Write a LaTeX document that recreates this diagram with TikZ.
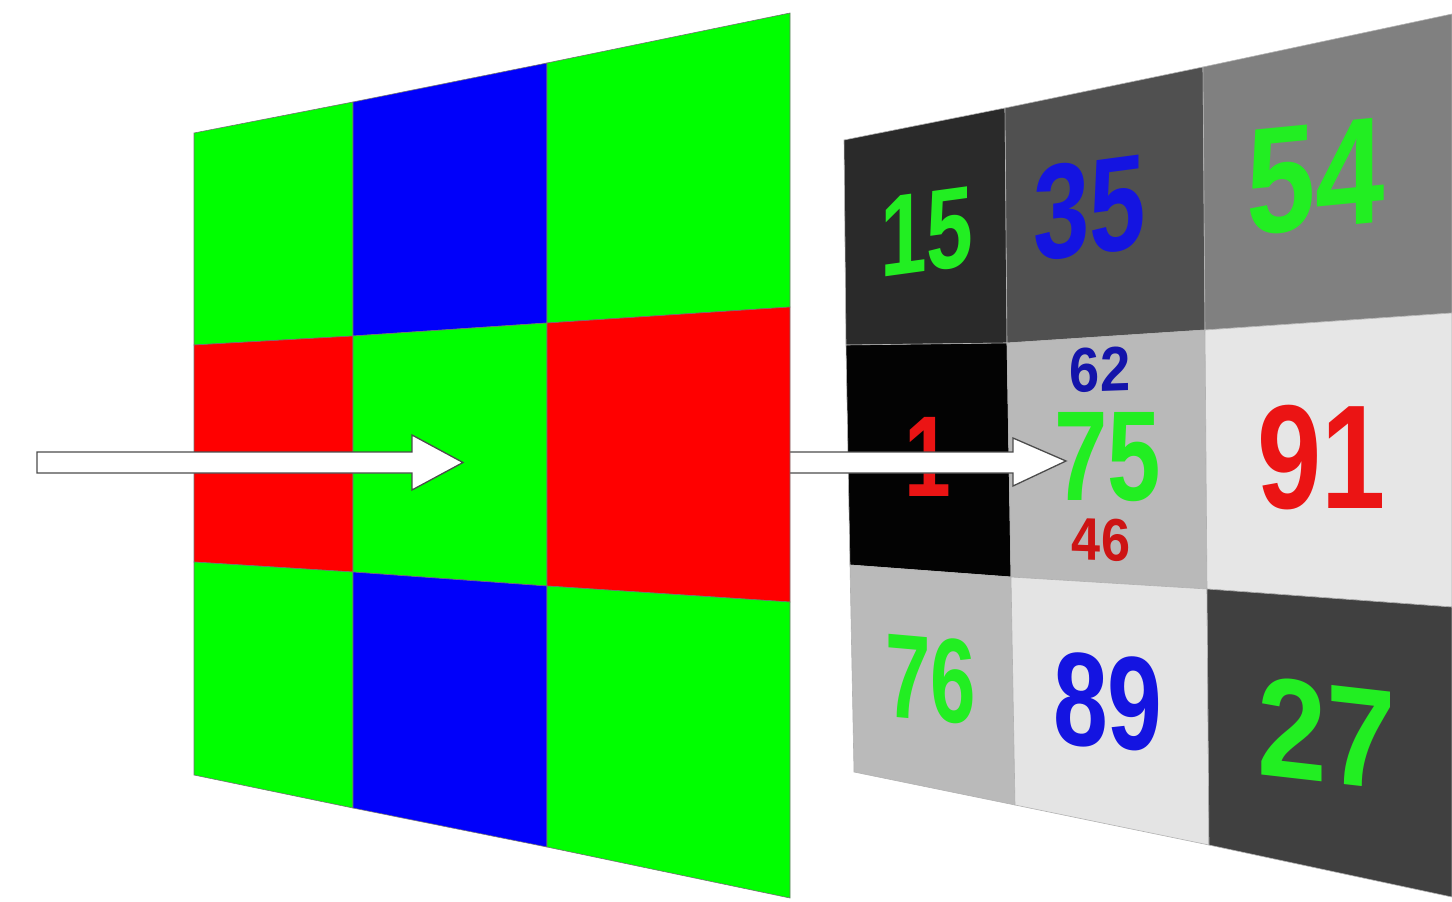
\documentclass[tikz,border=0pt]{standalone}
\usepackage{fontspec}
\setmainfont{Liberation Sans}
\definecolor{pgreen}{RGB}{0,255,0}
\definecolor{pblue}{RGB}{0,0,250}
\definecolor{pred}{RGB}{255,0,0}
\definecolor{numgreen}{RGB}{34,238,34}
\definecolor{numblue}{RGB}{20,20,225}
\definecolor{numred}{RGB}{235,20,20}
\definecolor{dkblue}{RGB}{20,20,170}
\definecolor{dkred}{RGB}{205,20,20}
\definecolor{gA}{RGB}{42,42,42}
\definecolor{gB}{RGB}{80,80,80}
\definecolor{gC}{RGB}{128,128,128}
\definecolor{gD}{RGB}{3,3,3}
\definecolor{gE}{RGB}{185,185,185}
\definecolor{gF}{RGB}{230,230,230}
\definecolor{gG}{RGB}{186,186,186}
\definecolor{gH}{RGB}{228,228,228}
\definecolor{gI}{RGB}{64,64,64}
\newcommand\cellnum[8]{\begin{scope}[shift={(#1,#2)}]\node[numtext, text=#6, xscale=#4, yslant=#5] (#8) at (0,0) {\fontsize{#3}{#3}\selectfont #7};\end{scope}}
\begin{document}
\begin{tikzpicture}[x=1pt,y=-1pt,
  cellL/.style={draw=black!55, line width=0.6pt, line join=miter},
  cellR/.style={draw=gray!60, line width=0.6pt, line join=miter},
  blockarrow/.style={fill=white, draw=gray!60!black, line width=1.3pt, line join=miter},
  numtext/.style={inner sep=0pt, font=\bfseries, transform shape}]
\useasboundingbox (0,0) rectangle (1452,902);
% ---------- right panel grid points
\coordinate (R00) at (844,140); \coordinate (R01) at (1005,108); \coordinate (R02) at (1203,67); \coordinate (R03) at (1452,14);
\coordinate (R10) at (846,345); \coordinate (R11) at (1007,343); \coordinate (R12) at (1205,330); \coordinate (R13) at (1452,313);
\coordinate (R20) at (850,565); \coordinate (R21) at (1011,577); \coordinate (R22) at (1207,589); \coordinate (R23) at (1452,607);
\coordinate (R30) at (854,772); \coordinate (R31) at (1015,805); \coordinate (R32) at (1209,845); \coordinate (R33) at (1452,897);
\path[cellR, fill=gA] (R00) -- (R01) -- (R11) -- (R10) -- cycle;
\path[cellR, fill=gB] (R01) -- (R02) -- (R12) -- (R11) -- cycle;
\path[cellR, fill=gC] (R02) -- (R03) -- (R13) -- (R12) -- cycle;
\path[cellR, fill=gD] (R10) -- (R11) -- (R21) -- (R20) -- cycle;
\path[cellR, fill=gE] (R11) -- (R12) -- (R22) -- (R21) -- cycle;
\path[cellR, fill=gF] (R12) -- (R13) -- (R23) -- (R22) -- cycle;
\path[cellR, fill=gG] (R20) -- (R21) -- (R31) -- (R30) -- cycle;
\path[cellR, fill=gH] (R21) -- (R22) -- (R32) -- (R31) -- cycle;
\path[cellR, fill=gI] (R22) -- (R23) -- (R33) -- (R32) -- cycle;
% numbers
\cellnum{927}{232}{115}{0.73}{0.10}{numgreen}{15}{n15}
\cellnum{1090}{208}{135}{0.75}{0.10}{numblue}{35}{n35}
\cellnum{1316}{177}{152}{0.82}{0.08}{numgreen}{54}{n54}
\cellnum{1100}{370}{63}{0.86}{0.03}{dkblue}{62}{n62}
\cellnum{928}{457}{115}{0.73}{0}{numred}{1}{n1}
\cellnum{1108}{457}{128}{0.75}{0}{numgreen}{75}{n75}
\cellnum{1101}{540}{60}{0.87}{-0.03}{dkred}{46}{n46}
\cellnum{1322}{458}{148}{0.78}{0}{numred}{91}{n91}
\cellnum{931}{679}{120}{0.68}{-0.06}{numgreen}{76}{n76}
\cellnum{1108}{702}{133}{0.74}{-0.06}{numblue}{89}{n89}
\cellnum{1327}{733}{142}{0.88}{-0.10}{numgreen}{27}{n27}
% ---------- second arrow (behind left panel at its start)
\coordinate (a2t) at (1066,461);
\path[blockarrow] (780,452) -- (1013,452) -- (1013,438) -- (a2t) -- (1013,486) -- (1013,473) -- (780,473) -- cycle;
% ---------- left panel grid points
\coordinate (L00) at (194,133); \coordinate (L01) at (353,102); \coordinate (L02) at (547,63); \coordinate (L03) at (790,13);
\coordinate (L10) at (194,345); \coordinate (L11) at (353,336); \coordinate (L12) at (547,323); \coordinate (L13) at (790,307);
\coordinate (L20) at (194,562); \coordinate (L21) at (353,572); \coordinate (L22) at (547,586); \coordinate (L23) at (790,602);
\coordinate (L30) at (194,775); \coordinate (L31) at (353,808); \coordinate (L32) at (547,847); \coordinate (L33) at (790,898);
\path[cellL, fill=pgreen] (L00) -- (L01) -- (L11) -- (L10) -- cycle;
\path[cellL, fill=pblue]  (L01) -- (L02) -- (L12) -- (L11) -- cycle;
\path[cellL, fill=pgreen] (L02) -- (L03) -- (L13) -- (L12) -- cycle;
\path[cellL, fill=pred]   (L10) -- (L11) -- (L21) -- (L20) -- cycle;
\path[cellL, fill=pgreen] (L11) -- (L12) -- (L22) -- (L21) -- cycle;
\path[cellL, fill=pred]   (L12) -- (L13) -- (L23) -- (L22) -- cycle;
\path[cellL, fill=pgreen] (L20) -- (L21) -- (L31) -- (L30) -- cycle;
\path[cellL, fill=pblue]  (L21) -- (L22) -- (L32) -- (L31) -- cycle;
\path[cellL, fill=pgreen] (L22) -- (L23) -- (L33) -- (L32) -- cycle;
% ---------- first arrow
\coordinate (a1t) at (463,462.5);
\path[blockarrow] (37,452) -- (412,452) -- (412,435) -- (a1t) -- (412,490) -- (412,473) -- (37,473) -- cycle;
\end{tikzpicture}
\end{document}
